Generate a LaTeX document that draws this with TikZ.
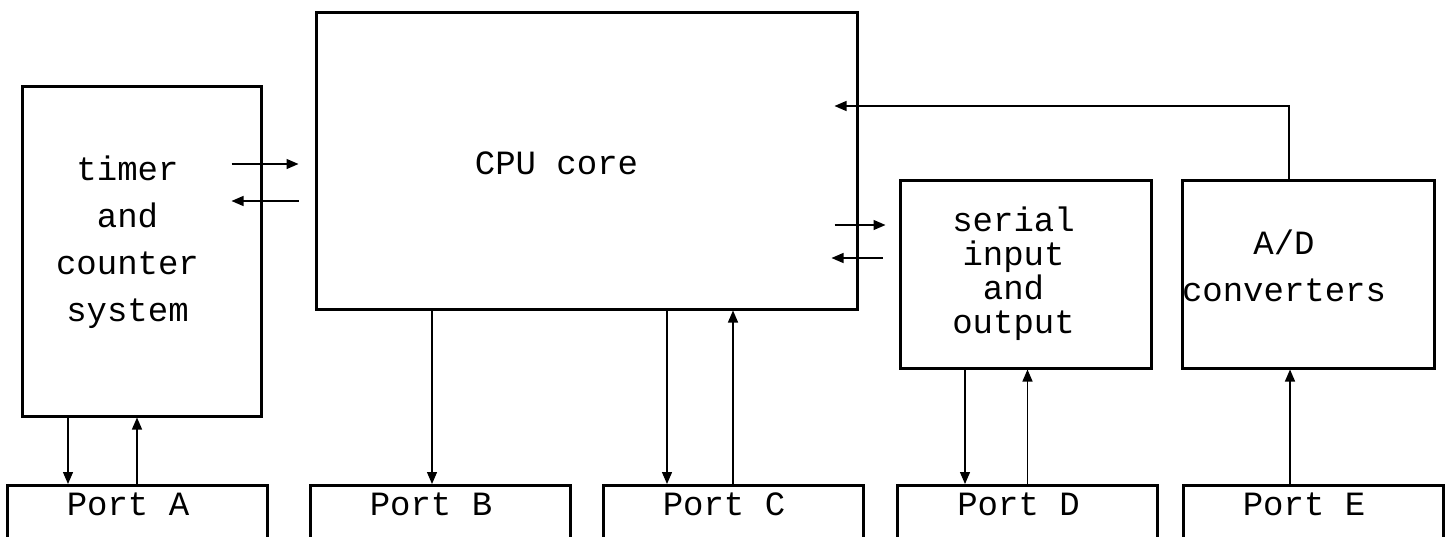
\documentclass[tikz,border=0pt]{standalone}
\usepackage{fontspec}
\setmonofont{Liberation Mono}
\usetikzlibrary{arrows.meta}

\begin{document}
\begin{tikzpicture}[x=1pt,y=-1pt]
   \tikzset{box/.style 2 args={draw, rectangle, line width=3pt, minimum width=#1, minimum height=#2},
            txt/.style={font=\ttfamily\fontsize{34}{47}\selectfont, align=center},
            arr/.style={line width=1.3pt, -{Triangle[length=12pt,width=10pt]}}};

\useasboundingbox (0,0) rectangle (1450,536);
\clip (0,0) rectangle (1450,536);

\node[box={239pt}{330pt}, label={[txt,xshift=-14pt,yshift=9pt]center:{timer\\and\\counter\\system}}] (1) at (141.5,251) {};
\node[box={541pt}{297pt}, label={[txt,xshift=-30pt,yshift=-3pt]center:CPU core}] (2) at (586.5,160.5) {};
\node[box={251pt}{188pt}, label={[txt,font=\ttfamily\fontsize{34}{34}\selectfont,xshift=-12pt]center:{serial\\input\\and\\output}}] (3) at (1025.5,274) {};
\node[box={252pt}{188pt}, label={[txt,xshift=-24pt,yshift=8pt]center:{A/D\\converters}}] (4) at (1308,274) {};

\node[box={260pt}{110pt}, anchor=north, label={[txt,anchor=north,xshift=-9pt,yshift=-5pt]north:Port A}] (5) at (137,484) {};
\node[box={260pt}{110pt}, anchor=north, label={[txt,anchor=north,xshift=-9pt,yshift=-5pt]north:Port B}] (6) at (440,484) {};
\node[box={260pt}{110pt}, anchor=north, label={[txt,anchor=north,xshift=-9pt,yshift=-5pt]north:Port C}] (7) at (733,484) {};
\node[box={260pt}{110pt}, anchor=north, label={[txt,anchor=north,xshift=-9pt,yshift=-5pt]north:Port D}] (8) at (1027.5,484) {};
\node[box={260pt}{110pt}, anchor=north, label={[txt,anchor=north,xshift=-9pt,yshift=-5pt]north:Port E}] (9) at (1313,484) {};

% timer <-> cpu
\draw[arr] ([xshift=-31pt,yshift=87pt]1.east) -- +(67,0);
\draw[arr] ([xshift=36pt,yshift=50pt]1.east) -- +(-67,0);

% cpu <-> serial, A/D -> cpu
\draw[arr] ([xshift=-24pt,yshift=-64.5pt]2.east) -- +(51,0);
\draw[arr] ([xshift=-16pt,yshift=16pt]3.west) -- +(-51,0);
\draw[arr] ([xshift=-19pt]4.north) |- ([xshift=-24pt,yshift=54.5pt]2.east);

% ports
\draw[arr] ([xshift=-73.5pt]1.south) -- ([xshift=-73.5pt]1.south |- 5.north);
\draw[arr] (5.north) -- (5.north |- 1.south);
\draw[arr] ([xshift=-8pt]6.north |- 2.south) -- ([xshift=-8pt]6.north);
\draw[arr] ([xshift=-66pt]7.north |- 2.south) -- ([xshift=-66pt]7.north);
\draw[arr] (7.north) -- (7.north |- 2.south);
\draw[arr] ([xshift=-62.5pt]8.north |- 3.south) -- ([xshift=-62.5pt]8.north);
\draw[arr] (8.north) -- (8.north |- 3.south);
\draw[arr] ([xshift=-18pt]4.south |- 9.north) -- ([xshift=-18pt]4.south);

\end{tikzpicture}
\end{document}
